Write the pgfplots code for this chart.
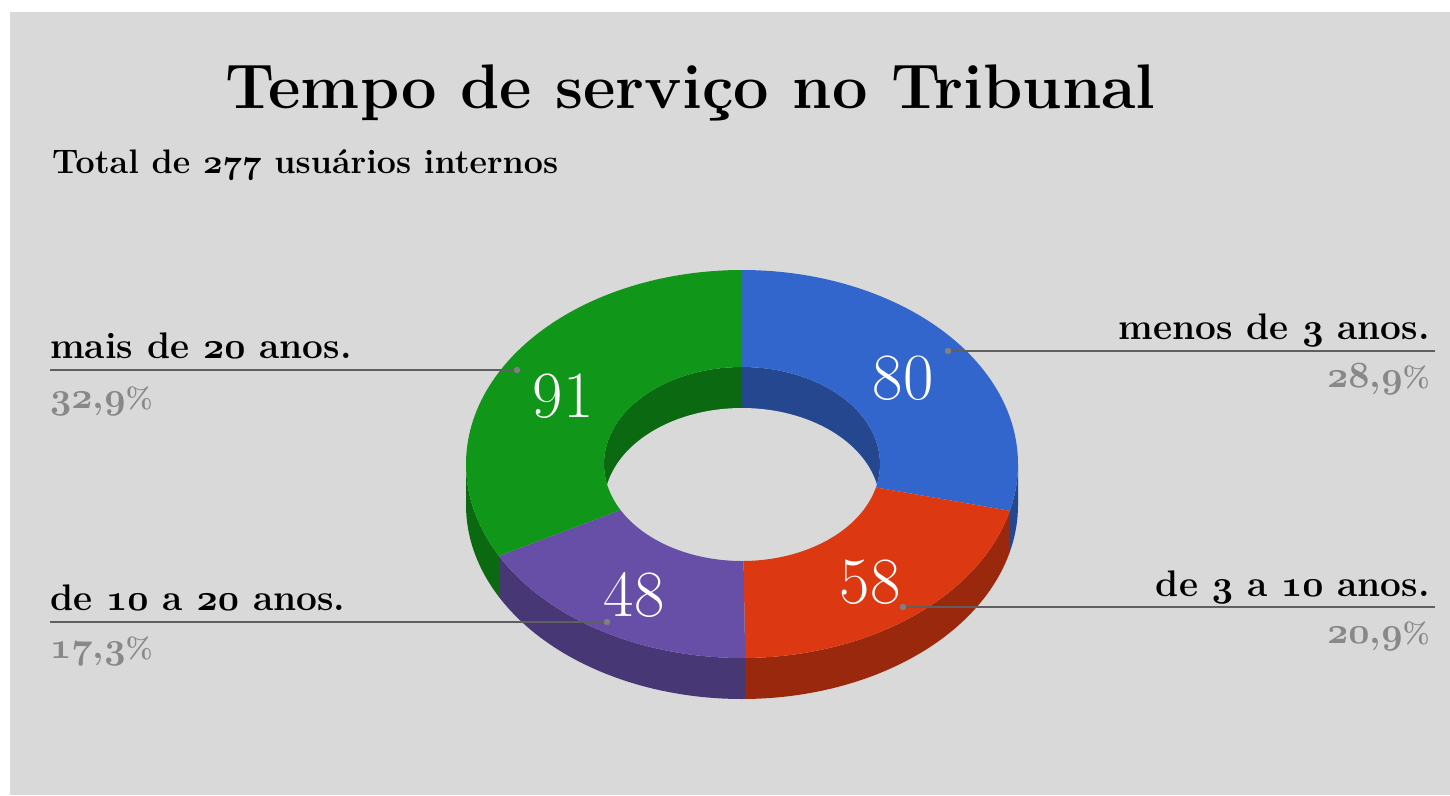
\documentclass[border=0pt]{standalone}
\usepackage{fix-cm}
\usepackage{pgfplots}
\usepackage{pgfplotstable}
\pgfplotsset{compat=1.18}
\definecolor{bg}{HTML}{D9D9D9}
\definecolor{cA}{HTML}{3366CC}
\definecolor{cB}{HTML}{DC3912}
\definecolor{cC}{HTML}{674EA7}
\definecolor{cD}{HTML}{109618}
\definecolor{dA}{HTML}{24478F}
\definecolor{dB}{HTML}{9A280D}
\definecolor{dC}{HTML}{483775}
\definecolor{dD}{HTML}{0B6911}
\definecolor{lead}{HTML}{5F5F5F}
\definecolor{pct}{HTML}{888888}

\pgfplotstableread{
categoria valor
A 80
B 58
C 48
D 91
}\dados

% bold old-style figures (bold math italic digits)
\newcommand\osn[1]{{\fontencoding{OML}\fontfamily{cmm}\fontseries{b}\fontshape{it}\selectfont #1}}
\newcommand\pc{{\fontsize{29}{32}\selectfont\%}}

% #1 colour, #2 #3 start/end angle, #4 #5 radius factor (outer path / return path), #6 #7 vertical drop
\newcommand\piece[7]{%
 \addplot[fill=#1,draw=none,domain=0:3,samples=241,variable=\t]
  ({742+276*kk(\t,#4,#5)*cos(th(\t,#2,#3))},
   {464-194*kk(\t,#4,#5)*sin(th(\t,#2,#3))+kk(\t,#6,#7)}) -- cycle;}

\begin{document}%
\pgfplotstablegetelem{0}{valor}\of\dados \let\vA\pgfplotsretval%
\pgfplotstablegetelem{1}{valor}\of\dados \let\vB\pgfplotsretval%
\pgfplotstablegetelem{2}{valor}\of\dados \let\vC\pgfplotsretval%
\pgfplotstablegetelem{3}{valor}\of\dados \let\vD\pgfplotsretval%
\pgfmathsetmacro\tot{\vA+\vB+\vC+\vD}%
\pgfmathsetmacro\aB{90-\vA/\tot*360}%
\pgfmathsetmacro\aC{\aB-\vB/\tot*360}%
\pgfmathsetmacro\aD{\aC-\vC/\tot*360}%
\begin{tikzpicture}
\fill[white] (0,0) rectangle (1450pt,795pt);
\fill[bg] (10pt,0) rectangle (1450pt,783pt);
\begin{axis}[
  at={(0pt,0pt)},anchor=south west,
  width=1450pt,height=795pt,scale only axis,
  xmin=0,xmax=1450,ymin=0,ymax=795,y dir=reverse,
  hide axis,clip=false,
  declare function={
    th(\s,\a,\b)=ifthenelse((\s)<=1,(\a)+((\b)-(\a))*(\s),ifthenelse((\s)<=2,(\b),(\b)-((\b)-(\a))*((\s)-2)));
    kk(\s,\p,\q)=ifthenelse((\s)<=1,(\p),ifthenelse((\s)<=2,(\p)+((\q)-(\p))*((\s)-1),(\q)));
  },
]
% outer side walls (front half)
\piece{dA}{\aB}{0}{1}{1}{0}{41}
\piece{dB}{\aC}{\aB}{1}{1}{0}{41}
\piece{dC}{\aD}{\aC}{1}{1}{0}{41}
\piece{dD}{-180}{\aD}{1}{1}{0}{41}
% inner back wall
\piece{dA}{-90}{90}{0.5}{0}{0}{0}
\piece{dD}{90}{270}{0.5}{0}{0}{0}
% hole floor (background seen through)
\piece{bg}{0}{180}{0.5}{-0.5}{41}{41}
% top faces
\piece{cA}{90}{\aB}{1}{0.5}{0}{0}
\piece{cB}{\aB}{\aC}{1}{0.5}{0}{0}
\piece{cC}{\aC}{\aD}{1}{0.5}{0}{0}
\piece{cD}{\aD}{-270}{1}{0.5}{0}{0}

% data labels
\node[text=white,font=\fontsize{66}{72}\selectfont] at (axis cs:903,378) {80};
\node[text=white,font=\fontsize{66}{72}\selectfont] at (axis cs:870,582) {58};
\node[text=white,font=\fontsize{66}{72}\selectfont] at (axis cs:634,595) {48};
\node[text=white,font=\fontsize{66}{72}\selectfont] at (axis cs:563,396) {91};

% leader lines
\addplot[lead,line width=1.8pt] coordinates {(948,351) (1435,351)};
\addplot[lead,line width=1.8pt] coordinates {(903,607) (1435,607)};
\addplot[lead,line width=1.8pt] coordinates {(50,370) (517,370)};
\addplot[lead,line width=1.8pt] coordinates {(50,622) (607,622)};
\addplot[only marks,mark=*,mark size=3pt,color=gray] coordinates {(948,351) (903,607) (517,370) (607,622)};

% titles
\node[anchor=base west,inner sep=0,font=\bfseries\fontsize{63}{70}\selectfont] at (axis cs:225,108) {Tempo de serviço no Tribunal};
\node[anchor=base west,inner sep=0,font=\bfseries\fontsize{34}{38}\selectfont] at (axis cs:52,173) {Total de \osn{277} usuários internos};

% category labels
\node[anchor=base east,inner sep=0,font=\bfseries\fontsize{37}{42}\selectfont] at (axis cs:1430,339) {menos de \osn{3} anos.};
\node[anchor=base east,inner sep=0,text=pct,font=\bfseries\fontsize{37}{42}\selectfont] at (axis cs:1430,387) {\osn{28},\osn{9}\pc};
\node[anchor=base east,inner sep=0,font=\bfseries\fontsize{37}{42}\selectfont] at (axis cs:1430,596) {de \osn{3} a \osn{10} anos.};
\node[anchor=base east,inner sep=0,text=pct,font=\bfseries\fontsize{37}{42}\selectfont] at (axis cs:1430,643) {\osn{20},\osn{9}\pc};
\node[anchor=base west,inner sep=0,font=\bfseries\fontsize{37}{42}\selectfont] at (axis cs:50,358) {mais de \osn{20} anos.};
\node[anchor=base west,inner sep=0,text=pct,font=\bfseries\fontsize{37}{42}\selectfont] at (axis cs:50,408) {\osn{32},\osn{9}\pc};
\node[anchor=base west,inner sep=0,font=\bfseries\fontsize{37}{42}\selectfont] at (axis cs:50,610) {de \osn{10} a \osn{20} anos.};
\node[anchor=base west,inner sep=0,text=pct,font=\bfseries\fontsize{37}{42}\selectfont] at (axis cs:50,658) {\osn{17},\osn{3}\pc};
\end{axis}
\end{tikzpicture}%
\end{document}
